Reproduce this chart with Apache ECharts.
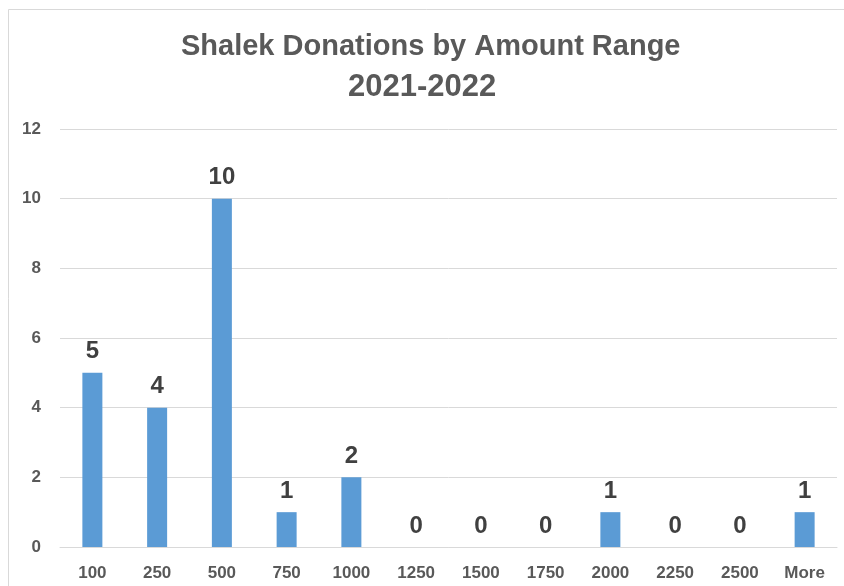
<!DOCTYPE html>
<html><head><meta charset="utf-8">
<script src="https://cdn.jsdelivr.net/npm/echarts@6/dist/echarts.min.js"></script>
<style>html,body{margin:0;padding:0;background:#fff}#c{width:844px;height:586px}</style>
</head><body><div id="c"></div>
<script>
const categories = ['100','250','500','750','1000','1250','1500','1750','2000','2250','2500','More'];
const counts = [5,4,10,1,2,0,0,0,1,0,0,1];
const titleLines = ['Shalek Donations by Amount Range','2021-2022'];
const yTicks = {min:0, max:12, interval:2};

const titleFont = {fontFamily:'Liberation Sans',fontWeight:'bold',color:'#595959'};
const chart = echarts.init(document.getElementById('c'));
chart.setOption({
  animation:false,
  backgroundColor:'#fff',
  graphic:[{type:'rect',shape:{x:8.5,y:9.5,width:860,height:600},style:{fill:'none',stroke:'#d9d9d9',lineWidth:1}}],
  title:[
    {text:titleLines[0],left:176,top:27,textStyle:Object.assign({fontSize:29},titleFont)},
    {text:titleLines[1],left:343,top:67,textStyle:Object.assign({fontSize:31},titleFont)}
  ],
  grid:{left:60,right:7,top:129,bottom:39,containLabel:false},
  xAxis:{type:'category',data:categories,
    axisLine:{lineStyle:{color:'#d9d9d9',width:1}},axisTick:{show:false},
    axisLabel:{interval:0,margin:18,fontFamily:'Liberation Sans',fontWeight:'bold',fontSize:17,color:'#595959'}},
  yAxis:{type:'value',min:yTicks.min,max:yTicks.max,interval:yTicks.interval,
    axisLine:{show:false},axisTick:{show:false},
    splitLine:{lineStyle:{color:'#d9d9d9',width:1}},
    axisLabel:{margin:19,fontFamily:'Liberation Sans',fontWeight:'bold',fontSize:17,color:'#595959'}},
  series:[{type:'bar',data:counts,barWidth:20,
    itemStyle:{color:'#5b9bd5'},
    label:{show:true,position:'top',distance:9,fontFamily:'Liberation Sans',fontWeight:'bold',fontSize:24,color:'#404040'}}]
});
</script></body></html>
